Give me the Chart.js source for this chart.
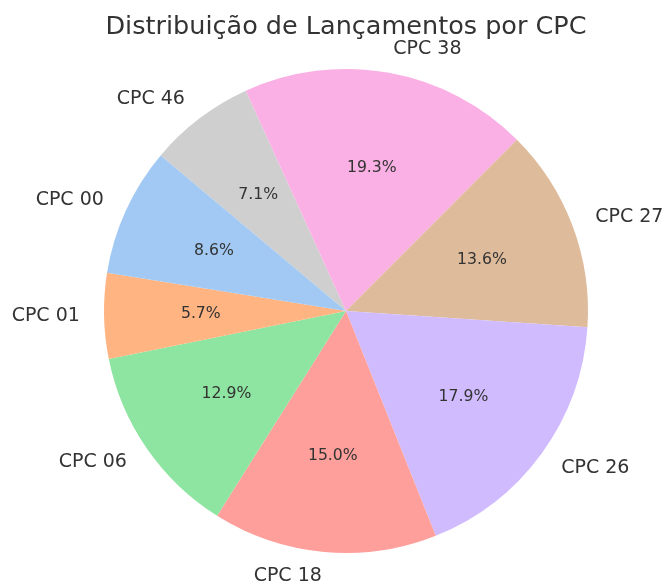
<!DOCTYPE html>
<html>
<head>
<meta charset="utf-8">
<script src="https://cdn.jsdelivr.net/npm/chart.js@4/dist/chart.umd.min.js"></script>
<style>
  html, body { margin: 0; padding: 0; background: #fff; }
  canvas { display: block; }
</style>
</head>
<body>
<canvas id="pie" width="665" height="585"></canvas>
<script>
// data (matplotlib order, counter-clockwise)
var categories = ["CPC 00", "CPC 01", "CPC 06", "CPC 18", "CPC 26", "CPC 27", "CPC 38", "CPC 46"];
var shares = [8.6, 5.7, 12.9, 15.0, 17.9, 13.6, 19.3, 7.1];
var colors = ["#a1c9f4", "#ffb482", "#8de5a1", "#ff9f9b", "#d0bbff", "#debb9b", "#fab0e4", "#cfcfcf"];
var title = "Distribuição de Lançamentos por CPC";

var textColor = "#333333";
var font = "DejaVu Sans";

// chart.js goes clockwise, so flip the order
var labels = categories.slice().reverse();
var values = shares.slice().reverse();
var fills = colors.slice().reverse();

var total = 0;
for (var i = 0; i < shares.length; i++) total += shares[i];

var pieText = {
    id: "pieText",
    afterDraw: function(chart) {
        var ctx = chart.ctx;
        var arcs = chart.getDatasetMeta(0).data;
        ctx.save();
        ctx.fillStyle = textColor;

        // title
        ctx.font = "25.5px '" + font + "'";
        ctx.textAlign = "center";
        ctx.textBaseline = "alphabetic";
        ctx.fillText(title, 346, 34);

        for (var i = 0; i < arcs.length; i++) {
            var a = arcs[i];
            var mid = (a.startAngle + a.endAngle) / 2;
            var r = a.outerRadius;
            var c = Math.cos(mid), s = Math.sin(mid);

            // category label outside the slice
            ctx.font = "19px '" + font + "'";
            ctx.textAlign = c > 0 ? "left" : "right";
            ctx.textBaseline = "middle";
            ctx.fillText(labels[i], a.x + 1.1 * r * c, a.y + 1.1 * r * s);

            // percentage inside
            ctx.font = "15.7px '" + font + "'";
            ctx.textAlign = "center";
            var pct = (values[i] / total * 100).toFixed(1) + "%";
            ctx.fillText(pct, a.x + 0.6 * r * c, a.y + 0.6 * r * s);
        }
        ctx.restore();
    }
};

new Chart(document.getElementById("pie"), {
    type: "pie",
    data: {
        labels: labels,
        datasets: [{
            data: values,
            backgroundColor: fills,
            borderWidth: 0,
            hoverOffset: 0
        }]
    },
    options: {
        responsive: false,
        animation: false,
        rotation: -50,
        layout: { padding: { left: 104, right: 77, top: 69, bottom: 32 } },
        plugins: {
            legend: { display: false },
            tooltip: { enabled: false }
        }
    },
    plugins: [pieText]
});
</script>
</body>
</html>
